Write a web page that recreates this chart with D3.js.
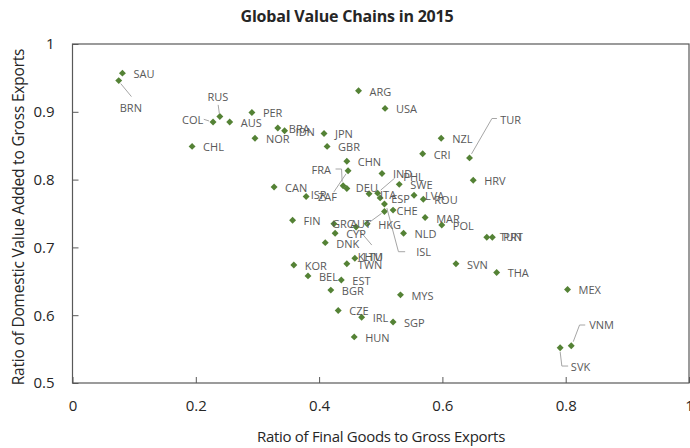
<!DOCTYPE html>
<html>
<head>
<meta charset="utf-8">
<script src="https://cdn.jsdelivr.net/npm/d3@7"></script>
<style>
  body { margin: 0; background: #fff; }
  svg { display: block; font-family: "Open Sans", "Noto Sans", sans-serif; }
</style>
</head>
<body>
<svg id="chart" width="690" height="448"></svg>
<script>
// values
const countries = ["SAU","BRN","RUS","COL","AUS","PER","BRA","IDN","NOR","CHL","CAN","ISR","ARG","USA","JPN","GBR","CHN","FRA","ZAF","DEU","IND","SWE","PHL","ITA","ESP","HKG","AUT","ISL","CHE","LVA","ROU","CRI","NZL","TUR","HRV","MAR","POL","NLD","TUN","PRT","THA","SVN","MEX","VNM","SVK","FIN","GRC","CYP","LTU","DNK","KHM","TWN","KOR","BEL","EST","BGR","MYS","CZE","IRL","SGP","HUN"];

const finalGoodsRatio = [0.081,0.075,0.239,0.228,0.255,0.291,0.333,0.344,0.296,0.194,0.327,0.379,0.464,0.507,0.408,0.413,0.445,0.439,0.447,0.445,0.502,0.530,0.495,0.481,0.499,0.478,0.506,0.506,0.520,0.554,0.569,0.568,0.598,0.644,0.650,0.572,0.599,0.537,0.672,0.681,0.688,0.622,0.803,0.809,0.791,0.357,0.424,0.426,0.460,0.410,0.458,0.445,0.359,0.382,0.436,0.419,0.532,0.431,0.469,0.520,0.457];

const domesticVARatio = [0.957,0.946,0.893,0.885,0.885,0.899,0.876,0.872,0.861,0.849,0.789,0.775,0.931,0.905,0.868,0.849,0.827,0.791,0.813,0.787,0.809,0.793,0.780,0.779,0.773,0.735,0.753,0.764,0.755,0.777,0.771,0.838,0.861,0.832,0.799,0.744,0.733,0.721,0.715,0.715,0.663,0.676,0.638,0.555,0.552,0.740,0.735,0.721,0.730,0.707,0.684,0.676,0.674,0.658,0.652,0.637,0.630,0.607,0.597,0.590,0.568];

const xTicks = [0, 0.2, 0.4, 0.6, 0.8, 1];
const yTicks = [0.5, 0.6, 0.7, 0.8, 0.9, 1];

// label placement (pixels from the marker), leader points when the label was moved
const labelDefault = [11, 1];
const labelPlacement = {
  BRN: [1, 27.5, [[2,3],[12.7,16]]],
  RUS: [-12.3, -19.4, [[-0.5,-3],[-1.7,-11.7]]],
  COL: [-31, -2, [[-4,-1],[-9.3,-2.7]]],
  ISR: [4.5, -2],
  FRA: [-31.6, -15.7, [[-1,-4],[-1.6,-16.7],[-7.6,-16.7]]],
  ZAF: [-30, 26.3, [[-2,3],[-14.3,21.3]]],
  DEU: [9, -0.7],
  PHL: [25.6, -16, [[3,-3],[17,-15]]],
  CHE: [3.5, 1],
  AUT: [-34.3, 12.7, [[-3,2],[-18,13]]],
  ISL: [31.7, 47.7, [[2.4,4],[14,47.7],[20.7,47.7]]],
  TUN: [13, 0],
  PRT: [11, 0],
  VNM: [18, -20.7, [[2,-4],[8.3,-20.7],[14,-20.7]]],
  SVK: [10.7, 19, [[0,4],[1.7,18.3],[8,18.3]]],
  TUR: [30.7, -37.7, [[2,-4],[22.4,-39.4],[27.4,-39.4]]],
  GRC: [-2, 0.7],
  LTU: [7, 30, [[3,3],[15.7,18]]],
  KHM: [3, -1]
};

const data = countries.map((c, i) => ({ name: c, x: finalGoodsRatio[i], y: domesticVARatio[i] }));

const svg = d3.select("#chart");
const plot = { left: 72.5, right: 689, top: 44, bottom: 383 };

const x = d3.scaleLinear().domain([0, 1]).range([plot.left, plot.right]);
const y = d3.scaleLinear().domain([0.5, 1]).range([plot.bottom, plot.top]);
const fmt = d => String(+d.toFixed(1));

svg.append("text")
  .attr("x", 347).attr("y", 22)
  .attr("text-anchor", "middle")
  .style("font-size", "16px").style("font-weight", "bold").style("fill", "#262626")
  .style("letter-spacing", "-0.2px")
  .text("Global Value Chains in 2015");

// axes with inward ticks
const xAxis = svg.append("g")
  .attr("transform", `translate(0,${plot.bottom})`)
  .call(d3.axisBottom(x).tickValues(xTicks).tickSize(-6).tickPadding(17).tickFormat(fmt));
const yAxis = svg.append("g")
  .attr("transform", `translate(${plot.left},0)`)
  .call(d3.axisLeft(y).tickValues(yTicks).tickSize(-6).tickPadding(18).tickFormat(fmt));

[xAxis, yAxis].forEach(g => {
  g.select(".domain").remove();
  g.selectAll("line").attr("stroke", "#595959");
  g.selectAll("text").style("font-size", "15px").style("fill", "#262626")
    .style("font-family", "'Open Sans', sans-serif");
});

svg.append("rect")
  .attr("x", plot.left).attr("y", plot.top)
  .attr("width", plot.right - plot.left).attr("height", plot.bottom - plot.top)
  .attr("fill", "none").attr("stroke", "#595959").attr("stroke-width", 1.2);

svg.append("text")
  .attr("x", 381).attr("y", 442)
  .attr("text-anchor", "middle")
  .style("font-size", "15px").style("fill", "#262626")
  .style("letter-spacing", "-0.3px")
  .text("Ratio of Final Goods to Gross Exports");

svg.append("text")
  .attr("transform", `translate(24,217) rotate(-90)`)
  .attr("text-anchor", "middle")
  .style("font-size", "15.5px").style("fill", "#262626")
  .style("letter-spacing", "-0.2px")
  .text("Ratio of Domestic Value Added to Gross Exports");

// points
svg.append("g").selectAll("path")
  .data(data).enter().append("path")
  .attr("d", d3.symbol(d3.symbolSquare, 24))
  .attr("transform", d => `translate(${x(d.x)},${y(d.y)}) rotate(45)`)
  .attr("fill", "#548235");

// leader lines for moved labels
const line = d3.line();
svg.append("g").selectAll("path")
  .data(data.filter(d => labelPlacement[d.name] && labelPlacement[d.name][2]))
  .enter().append("path")
  .attr("d", d => line(labelPlacement[d.name][2].map(p => [x(d.x) + p[0], y(d.y) + p[1]])))
  .attr("fill", "none").attr("stroke", "#a6a6a6").attr("stroke-width", 1);

// labels
svg.append("g").selectAll("text")
  .data(data).enter().append("text")
  .attr("x", d => x(d.x) + (labelPlacement[d.name] || labelDefault)[0])
  .attr("y", d => y(d.y) + (labelPlacement[d.name] || labelDefault)[1])
  .attr("dy", "0.36em")
  .style("font-size", "11px").style("fill", "#595959")
  .text(d => d.name);
</script>
</body>
</html>
